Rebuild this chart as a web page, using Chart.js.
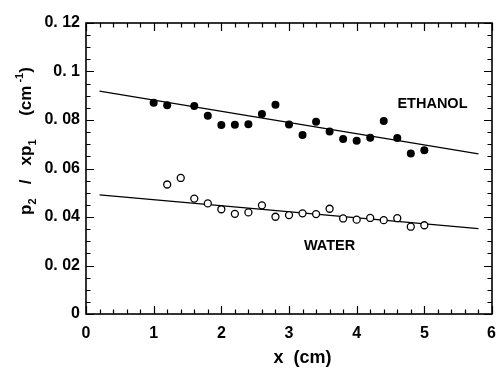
<!DOCTYPE html>
<html>
<head>
<meta charset="utf-8">
<script src="https://cdn.jsdelivr.net/npm/chart.js@4.4.1/dist/chart.umd.min.js"></script>
<style>
html,body{margin:0;padding:0;background:#fff;overflow:hidden;}
canvas{display:block;}
</style>
</head>
<body>
<canvas id="c" width="498" height="369"></canvas>
<script>
// ---- data ----
const ethanolX = [1.0,1.2,1.6,1.8,2.0,2.2,2.4,2.6,2.8,3.0,3.2,3.4,3.6,3.8,4.0,4.2,4.4,4.6,4.8,5.0];
const ethanolY = [0.0871,0.0861,0.0858,0.0818,0.0779,0.0780,0.0782,0.0825,0.0863,0.0781,0.0738,0.0793,0.0753,0.0722,0.0714,0.0727,0.0796,0.0726,0.0662,0.0675];
const waterX = [1.2,1.4,1.6,1.8,2.0,2.2,2.4,2.6,2.8,3.0,3.2,3.4,3.6,3.8,4.0,4.2,4.4,4.6,4.8,5.0];
const waterY = [0.0534,0.0561,0.0476,0.0456,0.0432,0.0413,0.0419,0.0448,0.0401,0.0408,0.0415,0.0412,0.0434,0.0394,0.0389,0.0396,0.0387,0.0395,0.0360,0.0366];
const ethanolFitX = [0.2, 5.8];
const ethanolFitY = [0.0919, 0.0660];
const waterFitX = [0.2, 5.8];
const waterFitY = [0.0491, 0.0352];
const xTickValues = [0, 1, 2, 3, 4, 5, 6];
const xTickLabels = ['0','1','2','3','4','5','6'];
const yTickLabels = ['0','0. 02','0. 04','0. 06','0. 08','0. 1','0. 12'];
const xTitle = 'x  (cm)';
const xTitleAt = 3.2;
const seriesLabels = ['ETHANOL','WATER'];
const seriesLabelX = [5.12, 3.6];
const seriesLabelY = [0.0867, 0.0281];

const FONT = '"Liberation Sans",Arial,sans-serif';

const toPts = (xs, ys) => xs.map((x, i) => ({x: x, y: ys[i]}));

const framePlugin = {
  id: 'frame',
  afterDraw(chart) {
    const ctx = chart.ctx;
    const xs = chart.scales.x, ys = chart.scales.y;
    const a = chart.chartArea;
    ctx.save();
    ctx.strokeStyle = '#000';
    ctx.lineWidth = 1.6;
    ctx.strokeRect(a.left, a.top, a.right - a.left, a.bottom - a.top);
    ctx.lineWidth = 1.2;
    for (let i = 0; i <= 30; i++) {
      const v = i * 0.2;
      const px = Math.round(xs.getPixelForValue(v)) + 0.5;
      const len = (i % 5 === 0) ? 8 : 4.5;
      ctx.beginPath();
      ctx.moveTo(px, a.bottom); ctx.lineTo(px, a.bottom - len);
      ctx.moveTo(px, a.top); ctx.lineTo(px, a.top + len);
      ctx.stroke();
    }
    for (let i = 0; i <= 24; i++) {
      const v = i * 0.005;
      const py = Math.round(ys.getPixelForValue(v)) + 0.5;
      const len = (i % 4 === 0) ? 8 : 4.5;
      ctx.beginPath();
      ctx.moveTo(a.left, py); ctx.lineTo(a.left + len, py);
      ctx.moveTo(a.right, py); ctx.lineTo(a.right - len, py);
      ctx.stroke();
    }
    ctx.fillStyle = '#000';
    // x tick labels placed through the x scale (kept inside the canvas)
    ctx.font = 'bold 16px ' + FONT;
    ctx.textAlign = 'left';
    ctx.textBaseline = 'middle';
    xTickValues.forEach((v, i) => {
      const w = ctx.measureText(xTickLabels[i]).width;
      let left = xs.getPixelForValue(v) - w / 2;
      left = Math.min(left, chart.width - w - 2);
      ctx.fillText(xTickLabels[i], left, a.bottom + 20);
    });
    // x axis title
    ctx.textAlign = 'center';
    ctx.font = 'bold 18px ' + FONT;
    ctx.fillText(xTitle, xs.getPixelForValue(xTitleAt), a.bottom + 44);
    // series labels
    ctx.font = 'bold 14.5px ' + FONT;
    seriesLabels.forEach((t, i) => {
      ctx.fillText(t, xs.getPixelForValue(seriesLabelX[i]), ys.getPixelForValue(seriesLabelY[i]));
    });
    // y axis title with sub/superscripts, written bottom-to-top
    ctx.translate(25, 215);
    ctx.rotate(-Math.PI / 2);
    const parts = [
      ['p', 17, 0], ['2', 11, 5], ['   /   xp', 17, 0], ['1', 11, 5], ['     (cm', 17, 0], [' -1', 11, -8], [')', 17, 0]
    ];
    let cx = 0;
    ctx.textAlign = 'left';
    ctx.textBaseline = 'alphabetic';
    parts.forEach(p => {
      ctx.font = 'bold ' + p[1] + 'px ' + FONT;
      ctx.fillText(p[0], cx, 6 + p[2]);
      cx += ctx.measureText(p[0]).width;
    });
    ctx.restore();
  }
};

new Chart(document.getElementById('c'), {
  type: 'scatter',
  data: {
    datasets: [
      {label: seriesLabels[0], data: toPts(ethanolX, ethanolY), pointRadius: 4, pointHoverRadius: 4,
       backgroundColor: '#000', borderColor: '#000', borderWidth: 0},
      {label: seriesLabels[1], data: toPts(waterX, waterY), pointRadius: 3.5, pointHoverRadius: 3.5,
       backgroundColor: '#fff', borderColor: '#000', borderWidth: 1.3},
      {type: 'line', label: 'ethanol fit', data: toPts(ethanolFitX, ethanolFitY), borderColor: '#000',
       borderWidth: 1.2, pointRadius: 0, fill: false, order: 5},
      {type: 'line', label: 'water fit', data: toPts(waterFitX, waterFitY), borderColor: '#000',
       borderWidth: 1.2, pointRadius: 0, fill: false, order: 5}
    ]
  },
  options: {
    responsive: false,
    animation: false,
    events: [],
    layout: {padding: {top: 23, right: 6, bottom: 1, left: 0}},
    plugins: {legend: {display: false}, tooltip: {enabled: false}},
    scales: {
      x: {
        type: 'linear', min: 0, max: 6,
        grid: {display: false, drawTicks: false},
        border: {display: false},
        afterFit: (s) => { s.height = 54; s.paddingRight = 0; s.paddingLeft = 0; },
        ticks: {display: false, stepSize: 1},
        title: {display: false}
      },
      y: {
        type: 'linear', min: 0, max: 0.12,
        grid: {display: false, drawTicks: false},
        border: {display: false},
        afterFit: (s) => { s.width = 86; s.paddingTop = 0; s.paddingBottom = 0; },
        ticks: {stepSize: 0.02, color: '#000', padding: 6,
          font: {family: FONT, size: 16, weight: 'bold'},
          callback: (v, i) => yTickLabels[i]}
      }
    }
  },
  plugins: [framePlugin]
});
</script>
</body>
</html>
